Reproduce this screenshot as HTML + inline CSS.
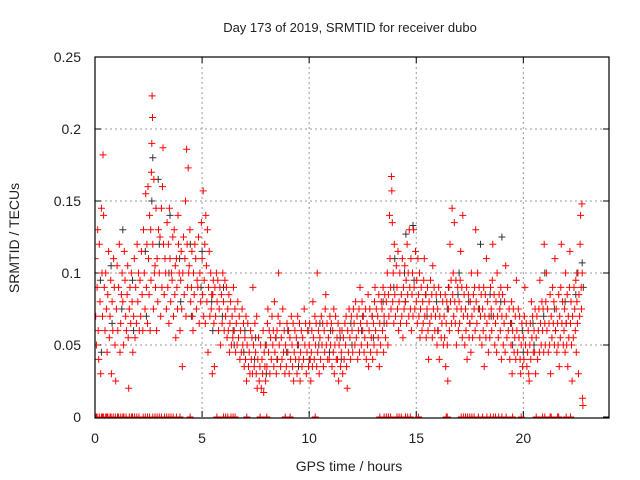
<!DOCTYPE html>
<html><head><meta charset="utf-8"><style>
html,body{margin:0;padding:0;background:#fff}
svg{display:block;font-family:"Liberation Sans",sans-serif}
</style></head><body>
<svg id="chart" width="640" height="480" viewBox="0 0 640 480">
<defs><clipPath id="pc"><rect x="95" y="57" width="514" height="361"/></clipPath></defs>
<text x="350" y="32" text-anchor="middle" font-size="13" fill="#222">Day 173 of 2019, SRMTID for receiver dubo</text>
<g id="grid"></g>
<g id="axes"></g>
<g id="marks" clip-path="url(#pc)"></g>
<rect x="95" y="57" width="514" height="361" fill="none" stroke="#000" stroke-width="1.2"/>
<text x="349" y="471" text-anchor="middle" font-size="14" fill="#222">GPS time / hours</text>
<text transform="translate(19,238) rotate(-90)" text-anchor="middle" font-size="14" fill="#222">SRMTID / TECUs</text>
</svg>
<script>
const xTicks=[0,5,10,15,20];
const yTicks=[0,0.05,0.1,0.15,0.2,0.25];
const yTickLabels=["0","0.05","0.1","0.15","0.2","0.25"];
const redSlots=[
[0.0,[.11,.07,.05]],[0.1,[.09,.13,.06,.04]],[0.2,[.12,.08,.03]],[0.3,[.145,.10,.07,.182]],[0.4,[.14,.09,.06]],[0.5,[.10,.075,.045]],[0.6,[.085,.115,.055]],[0.7,[.07,.095,.03]],[0.8,[.08,.06,.11]],[0.9,[.09,.05,.025]],
[1.0,[.075,.105,.06]],[1.1,[.09,.12,.045]],[1.2,[.065,.085,.10]],[1.3,[.08,.05,.115]],[1.4,[.095,.07,.06]],[1.5,[.085,.105,.055,.02]],[1.6,[.075,.09,.065]],[1.7,[.10,.08,.045]],[1.8,[.07,.11,.055]],[1.9,[.09,.065,.12]],
[2.0,[.08,.10,.06]],[2.1,[.095,.07,.115]],[2.2,[.085,.06,.13]],[2.3,[.10,.075,.155]],[2.4,[.09,.12,.065,.16]],[2.5,[.11,.085,.14,.06]],[2.6,[.13,.095,.17,.19,.223,.208]],[2.7,[.12,.075,.165,.10]],[2.8,[.105,.09,.145,.06]],[2.9,[.11,.08,.13]],
[3.0,[.10,.125,.07]],[3.1,[.145,.09,.16,.187]],[3.2,[.12,.085,.11]],[3.3,[.10,.075,.135]],[3.4,[.09,.12,.065,.145]],[3.5,[.11,.08,.10]],[3.6,[.095,.125,.07]],[3.7,[.13,.085,.105,.055]],[3.8,[.11,.09,.075,.14]],[3.9,[.12,.10,.06]],
[4.0,[.095,.115,.075,.035]],[4.1,[.10,.125,.085]],[4.2,[.11,.15,.07,.186]],[4.3,[.12,.09,.173,.10]],[4.4,[.105,.13,.08]],[4.5,[.09,.115,.07,.06]],[4.6,[.10,.085,.12]],[4.7,[.11,.075,.095]],[4.8,[.09,.125,.065]],[4.9,[.10,.08,.135]],
[5.0,[.11,.085,.157,.07]],[5.1,[.095,.12,.065,.14]],[5.2,[.105,.08,.13,.045]],[5.3,[.09,.115,.07]],[5.4,[.10,.075,.085,.03]],[5.5,[.085,.095,.065,.035]],[5.6,[.09,.07,.10]],[5.7,[.08,.095,.06]],[5.8,[.075,.09,.05]],[5.9,[.085,.065,.10]],
[6.0,[.08,.06,.095]],[6.1,[.07,.09,.055]],[6.2,[.075,.06,.085,.045]],[6.3,[.065,.08,.05]],[6.4,[.07,.055,.09]],[6.5,[.06,.075,.045]],[6.6,[.065,.05,.08]],[6.7,[.055,.07,.04]],[6.8,[.06,.045,.075]],[6.9,[.05,.065,.035]],
[7.0,[.055,.04,.07,.025]],[7.1,[.05,.065,.035]],[7.2,[.045,.03,.06]],[7.3,[.04,.055,.03,.09]],[7.4,[.05,.035,.065]],[7.5,[.045,.03,.07,.02]],[7.6,[.04,.055,.025]],[7.7,[.035,.05,.02]],[7.8,[.04,.03,.06,.017]],[7.9,[.045,.035,.025]],
[8.0,[.05,.035,.065,.075]],[8.1,[.045,.06,.03]],[8.2,[.055,.04,.07]],[8.3,[.05,.06,.035,.08]],[8.4,[.045,.055,.03]],[8.5,[.06,.04,.07,.1]],[8.6,[.05,.065,.035]],[8.7,[.055,.04,.075]],[8.8,[.045,.06,.03]],[8.9,[.05,.035,.065]],
[9.0,[.045,.06,.03]],[9.1,[.055,.04,.07]],[9.2,[.05,.035,.065,.025]],[9.3,[.045,.06,.04]],[9.4,[.055,.03,.07]],[9.5,[.05,.04,.065,.025]],[9.6,[.045,.06,.035]],[9.7,[.055,.04,.075]],[9.8,[.05,.065,.03]],[9.9,[.045,.06,.035]],
[10.0,[.05,.065,.04,.025]],[10.1,[.045,.06,.035,.08]],[10.2,[.055,.04,.07]],[10.3,[.05,.065,.035,.1]],[10.4,[.045,.06,.03]],[10.5,[.055,.04,.07]],[10.6,[.05,.065,.035]],[10.7,[.06,.045,.075,.085]],[10.8,[.05,.065,.04]],[10.9,[.055,.04,.07]],
[11.0,[.05,.065,.035]],[11.1,[.06,.045,.075,.03]],[11.2,[.05,.07,.04]],[11.3,[.055,.04,.065,.025]],[11.4,[.05,.06,.035]],[11.5,[.045,.06,.03]],[11.6,[.055,.04,.065]],[11.7,[.05,.07,.035,.02]],[11.8,[.06,.045,.075]],[11.9,[.055,.04,.07]],
[12.0,[.06,.045,.075]],[12.1,[.065,.05,.08]],[12.2,[.055,.07,.04]],[12.3,[.06,.075,.045,.09]],[12.4,[.065,.05,.08]],[12.5,[.06,.07,.045]],[12.6,[.055,.075,.04]],[12.7,[.065,.05,.085,.035]],[12.8,[.06,.075,.045]],[12.9,[.055,.07,.04]],
[13.0,[.065,.05,.08,.09]],[13.1,[.06,.075,.045]],[13.2,[.07,.055,.085,.035]],[13.3,[.065,.05,.08]],[13.4,[.075,.06,.09,.045]],[13.5,[.07,.085,.055]],[13.6,[.08,.065,.1,.05]],[13.7,[.085,.07,.14,.11]],[13.8,[.09,.075,.167,.157,.135]],[13.9,[.08,.1,.065,.12]],
[14.0,[.085,.07,.105]],[14.1,[.09,.075,.115,.06]],[14.2,[.08,.1,.065]],[14.3,[.085,.07,.11,.055]],[14.4,[.09,.075,.105]],[14.5,[.08,.095,.065,.12]],[14.6,[.085,.1,.07,.13]],[14.7,[.09,.075,.11,.06]],[14.8,[.085,.1,.07,.13]],[14.9,[.09,.075,.115]],
[15.0,[.08,.095,.065,.11]],[15.1,[.085,.07,.1,.055]],[15.2,[.075,.09,.06]],[15.3,[.08,.065,.095,.11]],[15.4,[.07,.085,.055]],[15.5,[.075,.09,.06,.04]],[15.6,[.08,.065,.095]],[15.7,[.07,.085,.055,.105]],[15.8,[.075,.09,.06]],[15.9,[.07,.085,.05]],
[16.0,[.075,.06,.09,.04]],[16.1,[.07,.085,.055]],[16.2,[.065,.08,.05]],[16.3,[.07,.055,.085,.035]],[16.4,[.065,.08,.05,.025]],[16.5,[.075,.09,.06,.12]],[16.6,[.08,.095,.065,.145]],[16.7,[.085,.1,.07,.135]],[16.8,[.08,.065,.095,.05]],[16.9,[.075,.09,.06]],
[17.0,[.08,.065,.095,.115]],[17.1,[.075,.09,.055,.14]],[17.2,[.07,.085,.05]],[17.3,[.075,.06,.09,.04]],[17.4,[.07,.085,.055]],[17.5,[.065,.08,.045,.1]],[17.6,[.07,.055,.085]],[17.7,[.075,.09,.06,.13]],[17.8,[.08,.065,.1]],[17.9,[.075,.09,.055]],
[18.0,[.07,.085,.05]],[18.1,[.075,.06,.09,.035]],[18.2,[.07,.085,.055,.11]],[18.3,[.065,.08,.045]],[18.4,[.07,.055,.09]],[18.5,[.075,.06,.095,.12]],[18.6,[.07,.085,.05]],[18.7,[.065,.08,.045,.1]],[18.8,[.07,.055,.085]],[18.9,[.075,.06,.09,.04]],
[19.0,[.07,.085,.05]],[19.1,[.065,.08,.045,.105]],[19.2,[.07,.055,.09]],[19.3,[.06,.075,.04]],[19.4,[.065,.05,.08,.03]],[19.5,[.06,.075,.045]],[19.6,[.055,.07,.04,.095]],[19.7,[.06,.045,.075]],[19.8,[.055,.07,.04,.03]],[19.9,[.05,.065,.035]],
[20.0,[.055,.04,.07,.09]],[20.1,[.05,.065,.035]],[20.2,[.045,.06,.03,.025]],[20.3,[.05,.065,.04,.08]],[20.4,[.055,.07,.045]],[20.5,[.06,.045,.075,.03]],[20.6,[.055,.07,.04]],[20.7,[.06,.075,.045,.095]],[20.8,[.065,.05,.08]],[20.9,[.06,.075,.045,.12]],
[21.0,[.065,.05,.08,.1]],[21.1,[.06,.075,.045]],[21.2,[.065,.05,.085,.03]],[21.3,[.07,.055,.09]],[21.4,[.065,.08,.05,.11]],[21.5,[.06,.075,.045]],[21.6,[.065,.05,.085,.035]],[21.7,[.07,.055,.09,.12]],[21.8,[.065,.08,.05]],[21.9,[.06,.075,.045,.1]],
[22.0,[.065,.05,.085,.035]],[22.1,[.07,.055,.09,.115]],[22.2,[.065,.08,.05,.025]],[22.3,[.07,.055,.09]],[22.4,[.075,.06,.095,.045]],[22.5,[.08,.065,.1,.03]],[22.6,[.085,.07,.12,.14]],[22.7,[.09,.075,.148,.1,.013,.008]]
];
const blackSlots=[
[0.25,[.095,.045]],[0.75,[.105,.065]],[1.25,[.075,.13]],[1.75,[.095,.06]],[2.35,[.115,.07]],[2.65,[.15,.18]],[2.95,[.165,.12]],[3.45,[.10,.14]],[3.95,[.11,.08]],[4.45,[.12,.07]],[4.95,[.09,.115]],[5.45,[.08,.06]],[5.95,[.07,.09]],[6.45,[.06,.05]],[6.95,[.045,.06]],[7.45,[.04,.055]],[7.95,[.05,.03]],[8.45,[.055,.04]],[8.95,[.045,.06]],[9.45,[.05,.035]],[9.95,[.06,.04]],[10.45,[.05,.065]],[10.95,[.045,.06]],[11.45,[.055,.04]],[11.95,[.065,.05]],[12.45,[.06,.07]],[12.95,[.07,.055]],[13.45,[.08,.065]],[13.95,[.09,.11]],[14.45,[.1,.08,.127]],[14.85,[.133,.095]],[15.45,[.085,.07]],[15.95,[.08,.06]],[16.45,[.075,.09]],[16.95,[.085,.1]],[17.45,[.08,.065]],[17.95,[.075,.12]],[18.45,[.085,.07]],[18.95,[.08,.125]],[19.45,[.065,.05]],[19.95,[.06,.045]],[20.45,[.065,.05]],[20.95,[.07,.1]],[21.45,[.075,.06]],[21.95,[.08,.065]],[22.45,[.085,.1]],[22.75,[.107,.09]]
];
const zeroTimes=[0,0.05,0.1,0.2,0.3,0.35,0.4,0.5,0.55,0.6,0.7,0.75,0.85,0.95,1.05,1.1,1.2,1.3,1.35,1.45,1.6,1.7,1.75,1.85,1.95,2.05,2.25,2.35,2.45,2.55,2.7,2.8,2.9,3.0,3.1,3.25,3.35,3.45,3.55,3.65,3.8,3.97,4.44,5.69,6.0,6.1,6.2,6.35,6.45,6.54,7.09,7.71,8.02,8.88,9.11,10.28,13.3,13.5,13.6,13.7,13.8,14.1,14.2,14.3,14.5,14.6,14.72,15.1,16.4,16.45,17.1,17.2,17.3,17.4,17.5,17.6,17.7,17.9,18.1,18.3,18.46,18.6,18.7,18.85,19.0,19.2,19.5,19.9,20.6,20.9,21.0,21.25,21.3,21.6,21.65,22.0,22.2];

const X=t=>95+t*514/24;
const Y=v=>417-v*1440;
const NS="http://www.w3.org/2000/svg";
const grid=document.getElementById('grid'),axes=document.getElementById('axes'),marks=document.getElementById('marks');
function mk(tag,attrs,parent){const e=document.createElementNS(NS,tag);for(const k in attrs)e.setAttribute(k,attrs[k]);parent.appendChild(e);return e;}
yTicks.forEach((v,i)=>{
  const y=Y(v);
  if(v>0&&v<0.25){const g=mk('line',{x1:95,x2:609,y1:y,y2:y,stroke:'#999','stroke-dasharray':'2,3','stroke-width':1},grid);
    
    }
  const t=mk('path',{d:`M95 ${y}h6M609 ${y}h-6`,stroke:'#000','stroke-width':1},axes);
  
  
  const l=mk('text',{x:81,y:y+5,'text-anchor':'end','font-size':14,fill:'#222'},axes);l.textContent=yTickLabels[i];
  
  
});
xTicks.forEach(h=>{
  const x=X(h);
  if(h>0){const g=mk('line',{x1:x,x2:x,y1:57,y2:417,stroke:'#999','stroke-dasharray':'2,3','stroke-width':1},grid);
    
    }
  const t=mk('path',{d:`M${x} 417v-6M${x} 57v6`,stroke:'#000','stroke-width':1},axes);
  
  
  const l=mk('text',{x:x,y:443,'text-anchor':'middle','font-size':14,fill:'#222'},axes);l.textContent=String(h);
  
  
});
function plus(t,v){const x=X(t),y=Y(v);return `M${(x-3.5).toFixed(1)} ${y.toFixed(1)}h7M${x.toFixed(1)} ${(y-3.5).toFixed(1)}v7`;}
// points within a 0.1 h slot are spread across the slot width
function slotPath(slots){let d='';slots.forEach(s=>{const n=s[1].length;s[1].forEach((v,i)=>{d+=plus(s[0]+0.1*i/n,v);});});return d;}
const bp=mk('path',{d:slotPath(blackSlots),stroke:'#333',fill:'none','stroke-width':1},marks);


let dr=slotPath(redSlots);
zeroTimes.forEach(t=>{dr+=plus(t,0);});
const rp=mk('path',{d:dr,stroke:'#ff0000',fill:'none','stroke-width':1},marks);


</script>
</body></html>
